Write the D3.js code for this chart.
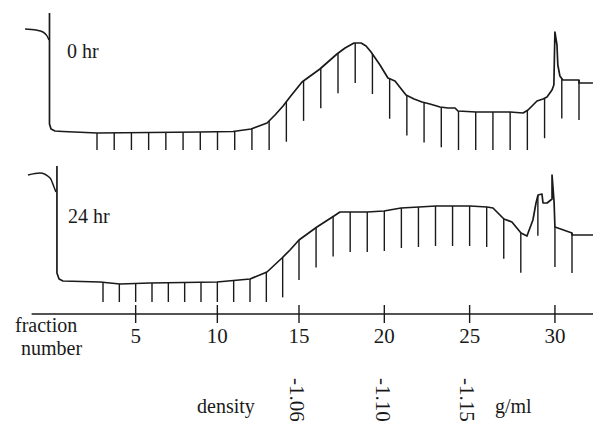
<!DOCTYPE html>
<html>
<head>
<meta charset="utf-8">
<script src="https://cdn.jsdelivr.net/npm/d3@7"></script>
<style>
  body { margin: 0; background: #fff; }
  text { font-family: "Liberation Serif", "DejaVu Serif", serif; fill: #1a1a1a; }
</style>
</head>
<body>
<div id="chart"></div>
<script>
// fraction axis ticks and density marks (density given at a fraction position)
var fractionTicks = [5, 10, 15, 20, 25, 30];
var densityLabels = ["-1.06", "-1.10", "-1.15"];
var densityAt = [14.85, 19.95, 24.85];

// fractions collected (one marker each)
var fractions = [3, 4, 5, 6, 7, 8, 9, 10, 11, 12, 13, 14, 15, 16, 17, 18, 19, 20, 21, 22, 23,
  24, 25, 26, 27, 28, 29, 30, 31];

// 0 hr trace: [fraction, absorbance]
var topMeniscus = [[-1.18, 1.21], [-0.54, 1.20], [-0.14, 1.18], [0.10, 1.14], [0.21, 1.10]];
var topTrace = [[0.24, 1.37], [0.24, 0.26], [0.33, 0.21], [0.56, 0.19], [1.02, 0.185], [3.00, 0.17],
  [6.08, 0.175], [8.98, 0.18], [10.90, 0.185], [11.95, 0.21], [12.88, 0.27], [13.34, 0.35],
  [13.81, 0.44], [14.21, 0.53], [14.91, 0.68], [15.95, 0.81], [16.94, 0.96], [17.41, 1.02],
  [17.93, 1.07], [18.34, 1.07], [18.63, 1.04], [18.92, 0.98], [19.44, 0.85], [19.90, 0.72],
  [20.31, 0.69], [20.95, 0.55], [21.42, 0.51], [21.88, 0.48], [22.34, 0.46], [22.93, 0.43],
  [23.39, 0.42], [23.80, 0.42], [23.97, 0.39], [25.02, 0.38], [26.00, 0.38], [26.99, 0.38],
  [27.75, 0.37], [28.04, 0.40], [28.33, 0.45], [28.56, 0.49], [28.91, 0.51], [29.14, 0.53],
  [29.43, 0.60], [29.54, 0.65], [29.60, 1.18], [29.72, 1.05], [29.77, 0.85], [29.89, 0.74],
  [30.06, 0.70], [31.00, 0.70], [31.00, 0.67], [31.81, 0.67]];

// 24 hr trace
var botMeniscus = [[-1.59, 1.27], [-0.86, 1.29], [-0.24, 1.24], [0.00, 1.15], [0.12, 1.10]];
var botTrace = [[0.18, 1.36], [0.18, 0.29], [0.31, 0.23], [0.55, 0.21], [2.82, 0.20], [4.04, 0.18],
  [5.88, 0.19], [9.98, 0.20], [12.00, 0.23], [13.04, 0.30], [13.96, 0.44], [14.45, 0.52],
  [15.00, 0.62], [16.05, 0.75], [17.05, 0.86], [17.40, 0.90], [18.99, 0.90], [19.98, 0.91],
  [20.98, 0.94], [22.03, 0.95], [23.03, 0.96], [24.03, 0.96], [25.02, 0.96], [26.02, 0.95],
  [26.37, 0.94], [26.66, 0.89], [27.01, 0.83], [27.48, 0.80], [28.01, 0.69], [28.36, 0.66],
  [28.71, 0.82], [28.89, 0.99], [29.01, 1.07], [29.24, 1.08], [29.30, 0.99], [29.54, 0.99],
  [29.83, 1.03], [29.83, 1.27], [29.95, 1.00], [30.00, 0.75], [31.00, 0.69], [31.00, 0.67],
  [32.23, 0.67]];

var markerLength = 0.40;
var ink = "#1a1a1a";

var svgWidth = 593;
var svgHeight = 421;

var svg = d3.select("#chart")
  .append("svg")
  .attr("width", svgWidth)
  .attr("height", svgHeight)
  .style("display", "block");

svg.append("rect")
  .attr("width", svgWidth)
  .attr("height", svgHeight)
  .attr("fill", "#fff");

// each recording sits a little differently on the page; the axis follows the lower one
var xTop = d3.scaleLinear().domain([3, 31]).range([97, 579]);
var xBot = d3.scaleLinear().domain([3, 15, 31]).range([103, 299, 572]);

var panels = [
  { meniscus: topMeniscus, trace: topTrace, label: "0 hr", x: xTop,
    y: d3.scaleLinear().domain([0, 1.4]).range([150, 10]), labelAt: [1.26, 0.92] },
  { meniscus: botMeniscus, trace: botTrace, label: "24 hr", x: xBot,
    y: d3.scaleLinear().domain([0, 1.4]).range([302, 162]), labelAt: [0.86, 0.79] }
];

// value of a trace at a fraction position
function traceAt(trace, f) {
  for (var i = 1; i < trace.length; i++) {
    var a = trace[i - 1], b = trace[i];
    if (b[0] > a[0] && f >= a[0] && f <= b[0]) {
      return a[1] + (b[1] - a[1]) * (f - a[0]) / (b[0] - a[0]);
    }
  }
  return trace[trace.length - 1][1];
}

panels.forEach(function(p) {
  var line = d3.line()
    .x(d => p.x(d[0]))
    .y(d => p.y(d[1]));

  var g = svg.append("g");

  g.append("path")
    .attr("d", d3.line().x(d => p.x(d[0])).y(d => p.y(d[1])).curve(d3.curveMonotoneX)(p.meniscus))
    .attr("fill", "none")
    .attr("stroke", ink)
    .attr("stroke-width", 1.5);

  // fraction markers hanging below the trace
  g.selectAll(".marker")
    .data(fractions)
    .enter()
    .append("line")
    .attr("x1", d => p.x(d))
    .attr("x2", d => p.x(d))
    .attr("y1", d => p.y(traceAt(p.trace, d)))
    .attr("y2", d => p.y(Math.max(0, traceAt(p.trace, d) - markerLength)))
    .attr("stroke", ink)
    .attr("stroke-width", 1.4);

  g.append("path")
    .attr("d", line(p.trace))
    .attr("fill", "none")
    .attr("stroke", ink)
    .attr("stroke-width", 1.7)
    .attr("stroke-linejoin", "round");

  g.append("text")
    .attr("x", p.x(p.labelAt[0]))
    .attr("y", p.y(p.labelAt[1]))
    .style("font-size", "20px")
    .text(p.label);
});

// fraction number axis
var axisY = 314;
svg.append("line")
  .attr("x1", xBot(-1.37))
  .attr("x2", svgWidth)
  .attr("y1", axisY)
  .attr("y2", axisY)
  .attr("stroke", ink)
  .attr("stroke-width", 1.4);

svg.selectAll(".tick")
  .data(fractionTicks)
  .enter()
  .append("line")
  .attr("x1", d => xBot(d))
  .attr("x2", d => xBot(d))
  .attr("y1", axisY - 9)
  .attr("y2", axisY + 9)
  .attr("stroke", ink)
  .attr("stroke-width", 1.4);

svg.selectAll(".tickLabel")
  .data(fractionTicks)
  .enter()
  .append("text")
  .attr("x", d => xBot(d))
  .attr("y", 343)
  .attr("text-anchor", "middle")
  .style("font-size", "21px")
  .text(d => d);

// two-line axis title
svg.append("text")
  .attr("y", 332)
  .style("font-size", "20px")
  .selectAll("tspan")
  .data(["fraction", "number"])
  .enter()
  .append("tspan")
  .attr("x", (d, i) => i ? 21 : 15)
  .attr("dy", (d, i) => i ? 23 : 0)
  .text(d => d);

// density scale
svg.append("text")
  .attr("x", 197)
  .attr("y", 413)
  .style("font-size", "20px")
  .text("density");

svg.selectAll(".density")
  .data(densityLabels)
  .enter()
  .append("text")
  .attr("transform", (d, i) => `translate(${xBot(densityAt[i]) - 7}, 378) rotate(90)`)
  .style("font-size", "21px")
  .text(d => d);

svg.append("text")
  .attr("x", 495)
  .attr("y", 413)
  .style("font-size", "20px")
  .text("g/ml");
</script>
</body>
</html>
